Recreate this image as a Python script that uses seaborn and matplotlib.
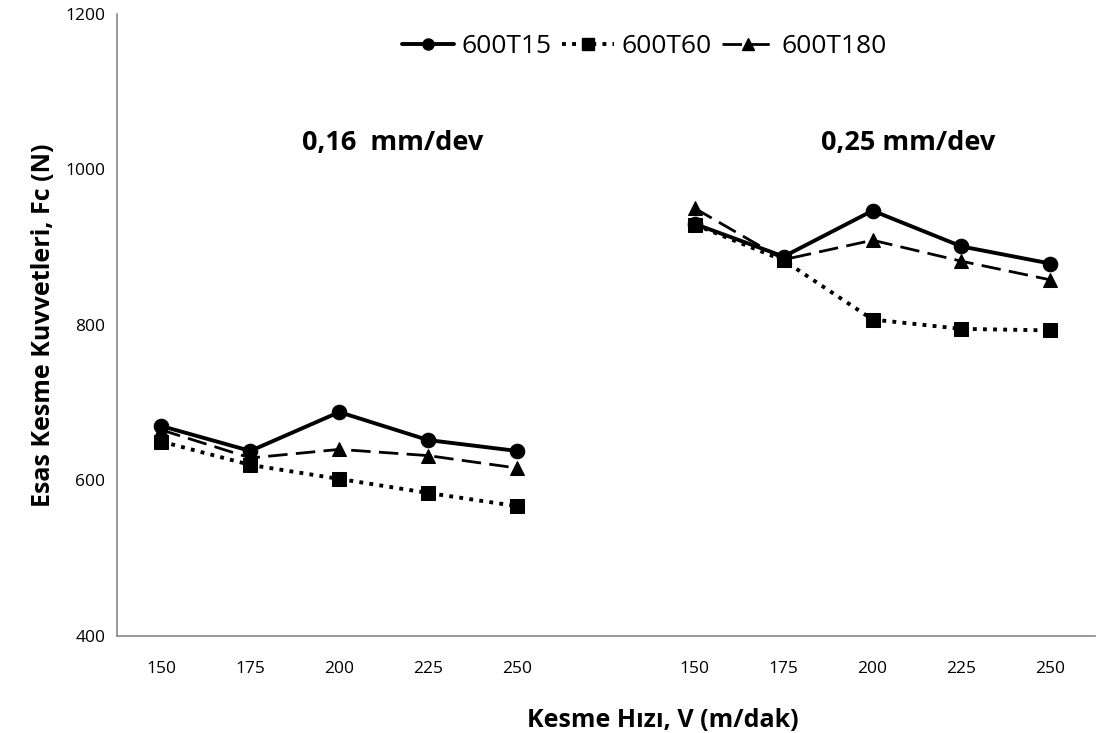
import pandas as pd
import seaborn as sns
import matplotlib.pyplot as plt
from matplotlib.lines import Line2D

speeds = ['150', '175', '200', '225', '250']
feeds = ['0,16  mm/dev', '0,25 mm/dev']
series = ['600T15', '600T60', '600T180']

# force values per series, feed 0.16 then feed 0.25
fc_600T15 = [[670, 638, 688, 652, 638], [930, 888, 947, 901, 879]]
fc_600T60 = [[650, 620, 602, 584, 567], [929, 883, 807, 795, 793]]
fc_600T180 = [[665, 629, 640, 632, 616], [950, 884, 909, 882, 858]]
values = {'600T15': fc_600T15, '600T60': fc_600T60, '600T180': fc_600T180}

rows = []
for s in series:
    for g, grp in enumerate(values[s]):
        for i, v in enumerate(grp):
            rows.append({'series': s, 'group': g, 'pos': i + g * 6, 'Fc': v})
df = pd.DataFrame(rows)

sns.set_style('white')
plt.rcParams['font.family'] = ['Open Sans', 'DejaVu Sans']
plt.rcParams['text.color'] = 'black'
plt.rcParams['axes.labelcolor'] = 'black'
plt.rcParams['xtick.color'] = 'black'
plt.rcParams['ytick.color'] = 'black'

styles = {
    '600T15': dict(ls='-', marker='o', lw=2.8, ms=10.5),
    '600T60': dict(ls=(0, (1, 1.6)), marker='s', lw=2.8, ms=10),
    '600T180': dict(ls=(0, (7, 3)), marker='^', lw=2.0, ms=10),
}

fig = plt.figure(figsize=(11.2, 7.33), dpi=100)
ax = fig.add_axes([0.1045, 0.1323, 0.873, 0.8487])

for s in series:
    st = styles[s]
    for g in range(2):
        sub = df[(df.series == s) & (df.group == g)]
        sns.lineplot(data=sub, x='pos', y='Fc', ax=ax, color='black',
                     linestyle=st['ls'], linewidth=st['lw'], marker=st['marker'],
                     markersize=st['ms'], markeredgecolor='black', estimator=None)

ax.set_xlim(-0.5, 10.5)
ax.set_ylim(400, 1200)
ax.set_yticks([400, 600, 800, 1000, 1200])
ax.set_xticks([0, 1, 2, 3, 4, 6, 7, 8, 9, 10])
ax.set_xticklabels(speeds + speeds)
ax.set_xticks([i - 0.5 for i in range(12)], minor=True)
ax.tick_params(axis='x', which='major', length=0, pad=18, labelsize=12.5)
ax.tick_params(axis='x', which='minor', length=5, color='#888888', width=1)
ax.tick_params(axis='y', length=5, color='#888888', width=1, labelsize=12.5)

for sp in ['top', 'right']:
    ax.spines[sp].set_visible(False)
for sp in ['left', 'bottom']:
    ax.spines[sp].set_color('#888888')
    ax.spines[sp].set_linewidth(1.2)

ax.set_xlabel('Kesme Hızı, V (m/dak)', fontsize=18, fontweight='bold', labelpad=22)
ax.set_ylabel('Esas Kesme Kuvvetleri, Fc (N)', fontsize=18, fontweight='bold', labelpad=7)
ax.xaxis.label.set_x(0.558)

ax.text(2.6, 1034, feeds[0], fontsize=19.5, fontweight='bold', ha='center', va='center')
ax.text(8.4, 1034, feeds[1], fontsize=19.5, fontweight='bold', ha='center', va='center')

handles = [Line2D([], [], color='black', linestyle=styles[s]['ls'], linewidth=styles[s]['lw'],
                  marker=styles[s]['marker'], markersize=8) for s in series]
fig.legend(handles, series, loc='center', bbox_to_anchor=(0.575, 0.936), ncol=3,
           frameon=False, fontsize=19, handlelength=2.0, handletextpad=0.25, columnspacing=0.4)

fig.savefig('out.png', dpi=100)
